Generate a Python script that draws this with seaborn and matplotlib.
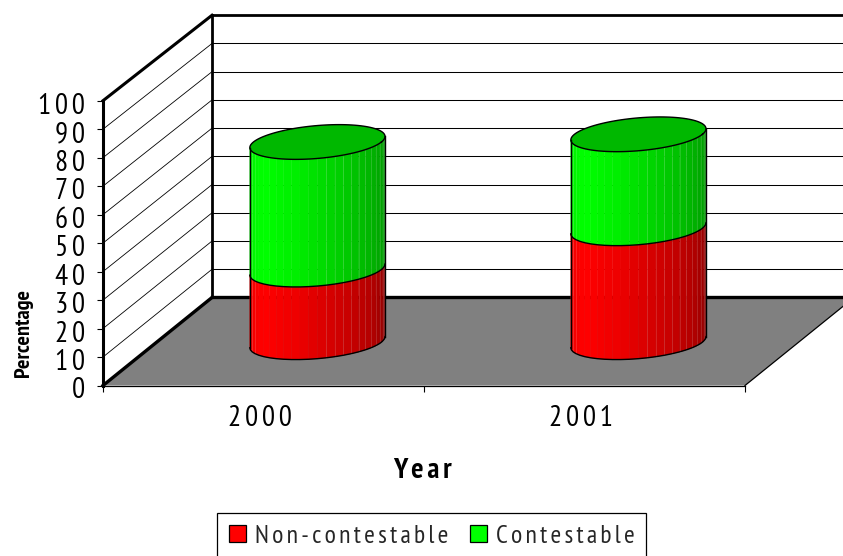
import numpy as np
import seaborn as sns
import matplotlib.pyplot as plt
from matplotlib.patches import Patch
from matplotlib.transforms import ScaledTranslation

# values
years = ["2000", "2001"]
non_contestable = [25.5, 40]
contestable = [44.8, 33]
pct_ticks = list(range(0, 101, 10))
series_names = ["Non-contestable", "Contestable"]
xlabel_text = "Year"
ylabel_text = "Percentage"

sns.set_theme(style="white")
plt.rcParams["font.family"] = ["PT Sans Narrow", "Liberation Sans Narrow", "Archivo Narrow",
                               "Roboto Condensed", "Liberation Sans", "DejaVu Sans"]

W, H = 843, 556
FS = 21
LEG_FS = 18.5
fig = plt.figure(figsize=(W / 100, H / 100), dpi=100)
# axes is the front plane of the 3D box
ax = fig.add_axes([103 / W, (H - 385.5) / H, 642 / W, 284.8 / H])


def spaced(s):
    # the original has very wide letter spacing
    return "\u2009".join(s)


# oblique depth of the box, in data units
DX, DY = 109 / 321, 30.9
BACK = 0.991
cx_off, cy_off = 0.168, 15.2
RX, KX, KY = 64 / 321, 21.7 / 321, 6.1
N = 24

red_shades = sns.blend_palette(["#f00000", "#ff0000", "#ee0000", "#d00000", "#b40000", "#8c0000"], N)
green_shades = sns.blend_palette(["#00f000", "#00ff00", "#00ee00", "#00d000", "#00b400", "#009400"], N)
TOP_GREEN = "#00b800"


def line(xs, ys, lw, color="black", z=2):
    sns.lineplot(x=xs, y=ys, estimator=None, sort=False, color=color, lw=lw,
                 clip_on=False, zorder=z, ax=ax, legend=False, solid_capstyle="projecting")


# floor
ax.fill([0, 2, 2 + DX, DX], [0, 0, DY, DY], color="#808080", zorder=1, clip_on=False, lw=0)

# gridlines on back and side wall
for v in pct_ticks[1:-1]:
    yb = DY + v * BACK
    line([DX, 2 + DX], [yb, yb], 0.75)
    line([0, DX], [v, yb], 0.6)

# box frame
line([0, DX], [100, DY + 100 * BACK], 2.2, z=3)
line([DX, 2 + DX], [DY + 100 * BACK] * 2, 2.0, z=3)
line([DX, DX], [DY, DY + 100 * BACK], 2.0, z=3)
line([0, DX], [0, DY], 2.4, z=3)
line([DX, 2 + DX], [DY, DY], 2.4, z=3)
line([2, 2 + DX], [0, DY], 0.9, z=3)

t0 = np.arctan2(KX, RX)
front = np.linspace(t0 + np.pi, t0 + 2 * np.pi, N + 1)
whole = np.linspace(0, 2 * np.pi, 121)


def ring(c, v, t):
    return c + RX * np.cos(t) + KX * np.sin(t), v + KY * np.sin(t)


def side(c, lo, hi, shades):
    for i in range(N):
        t = np.linspace(front[i], front[i + 1], 4)
        xl, yl = ring(c, lo, t)
        xh, yh = ring(c, hi, t)
        ax.fill(np.r_[xl, xh[::-1]], np.r_[yl, yh[::-1]], color=shades[i], lw=0.3, zorder=5, clip_on=False)
        # pale seams between the facets
        if i >= N // 2 or i in (1, 2):
            line([xl[-1], xh[-1]], [yl[-1], yh[-1]], 0.4, color="#ffffff40", z=5.5)


for i, yr in enumerate(years):
    c = i + 0.5 + cx_off
    mid = non_contestable[i] + cy_off
    top = non_contestable[i] + contestable[i] + cy_off
    side(c, cy_off, mid, red_shades)
    side(c, mid, top, green_shades)

    xt, yt = ring(c, top, whole)
    ax.fill(xt, yt, color=TOP_GREEN, zorder=6, clip_on=False, lw=0)
    line(xt, yt, 1.0, z=7)
    for lvl in (cy_off, mid):
        xa, ya = ring(c, lvl, front)
        line(xa, ya, 1.0, z=7)
    for end in (front[0], front[-1]):
        xa, ya = ring(c, cy_off, np.array([end]))
        xb, yb = ring(c, top, np.array([end]))
        line([xa[0], xb[0]], [ya[0], yb[0]], 1.0, z=7)

ax.set_xlim(0, 2)
ax.set_ylim(0, 100)

# axes, ticks and labels
ax.set_facecolor("none")
sns.despine(ax=ax, top=True, right=True)
ax.spines["left"].set_linewidth(2.2)
ax.spines["bottom"].set_linewidth(0.9)
ax.spines["left"].set_color("black")
ax.spines["bottom"].set_color("black")
ax.set_yticks(pct_ticks)
ax.set_yticklabels([spaced(str(v)) for v in pct_ticks], fontsize=FS)
ax.set_xticks([0, 1, 2])
ax.set_xticklabels([])
ax.set_xticks([0.5, 1.5], minor=True)
ax.set_xticklabels([spaced(y) for y in years], minor=True, fontsize=FS)
ax.tick_params(axis="y", which="major", left=True, length=4, width=0.8, pad=9, color="black", colors="black")
ax.tick_params(axis="x", which="major", bottom=True, length=4, width=0.8, color="black")
ax.tick_params(axis="x", which="minor", bottom=False, pad=10, colors="black")

# small nudges, the labels sit a bit off their ticks in the original
for lbl in ax.get_yticklabels():
    lbl.set_transform(lbl.get_transform() + ScaledTranslation(0, -2.5 / 100, fig.dpi_scale_trans))
for lbl in ax.get_xticklabels(minor=True):
    lbl.set_transform(lbl.get_transform() + ScaledTranslation(-3.5 / 100, 0, fig.dpi_scale_trans))

fig.text(422 / W, 1 - 471 / H, spaced(xlabel_text), fontsize=FS, fontweight="bold",
         ha="center", va="center", color="black")
fig.text(23 / W, 1 - 333 / H, ylabel_text, fontsize=16, fontweight="bold", rotation=90,
         ha="center", va="center", color="black")

handles = [Patch(facecolor="#ff0000", edgecolor="black", lw=0.9),
           Patch(facecolor="#00ff00", edgecolor="black", lw=0.9)]
ax.legend(handles, [spaced(s) for s in series_names], ncol=2, loc="upper left",
          bbox_to_anchor=(217 / W, 1 - 513 / H), bbox_transform=fig.transFigure,
          fontsize=LEG_FS, frameon=True, fancybox=False, edgecolor="black", framealpha=1,
          handlelength=0.66, handleheight=0.66, handletextpad=0.35, columnspacing=0.85,
          borderaxespad=0, borderpad=0.45).get_frame().set_linewidth(0.9)

fig.savefig("out.png", dpi=100)
